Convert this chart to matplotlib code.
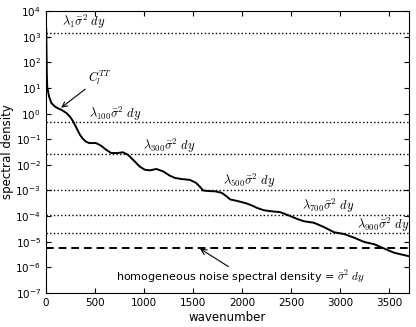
import matplotlib

matplotlib.use("Agg")
import matplotlib.pyplot as plt
import numpy as np

# C_l^TT curve
ell = [5, 8, 11, 15, 34, 57, 92, 126, 160, 211, 246, 280, 314, 348, 377, 410,
       444, 512, 563, 615, 666, 734, 785, 836, 888, 956, 1007, 1058, 1127,
       1195, 1263, 1315, 1383, 1468, 1530, 1570, 1604, 1660, 1724, 1793,
       1840, 1878, 1963, 2049, 2100, 2152, 2220, 2288, 2390, 2440, 2493,
       2560, 2629, 2732, 2830, 2937, 3039, 3140, 3244, 3347, 3449, 3551, 3705]
cl = [2000, 200, 30, 11, 4.6, 2.6, 1.9, 1.6, 1.4, 1.05, 0.77, 0.49, 0.27, 0.15,
      0.105, 0.08, 0.071, 0.071, 0.056, 0.039, 0.029, 0.029, 0.031, 0.025,
      0.016, 0.0087, 0.0065, 0.0061, 0.0069, 0.0056, 0.0038, 0.0031, 0.0028,
      0.0026, 0.0020, 0.0014, 0.0010, 0.00095, 0.00093, 0.00081, 0.00060,
      0.00045, 0.00038, 0.00031, 0.00026, 0.00021, 0.00017, 0.000156,
      0.000142, 0.00012, 1e-4, 7.8e-5, 6.3e-5, 5.5e-5, 3.8e-5, 2.35e-5,
      2.0e-5, 1.45e-5, 9.8e-6, 8e-6, 5.4e-6, 3.7e-6, 2.7e-6]

# dotted levels lambda_l * sigma^2 dy
lam_labels = [r"$\lambda_{1}\bar{\sigma}^2\ dy$", r"$\lambda_{100}\bar{\sigma}^2\ dy$",
              r"$\lambda_{300}\bar{\sigma}^2\ dy$", r"$\lambda_{500}\bar{\sigma}^2\ dy$",
              r"$\lambda_{700}\bar{\sigma}^2\ dy$", r"$\lambda_{900}\bar{\sigma}^2\ dy$"]
lam_levels = [1400, 0.48, 0.027, 1.0e-3, 1.15e-4, 2.1e-5]
lam_text_x = [167, 444, 987, 1803, 2613, 3169]
lam_text_y = [3700, 1.0, 0.056, 0.0023, 2.6e-4, 4.7e-5]

noise_level = 5.5e-6

plt.rcParams["mathtext.fontset"] = "cm"
plt.rcParams["font.family"] = "DejaVu Sans"

fig = plt.figure(figsize=(4.16, 3.27), dpi=100)
ax = fig.add_axes([0.11, 0.104, 0.873, 0.862])

ax.semilogy(ell, cl, color="k", lw=1.4)
for lev in lam_levels:
    ax.axhline(lev, color="k", ls=":", lw=1.0)
ax.axhline(noise_level, color="k", ls=(0, (4, 2.5)), lw=1.4)

for lab, tx, ty in zip(lam_labels, lam_text_x, lam_text_y):
    ax.text(tx, ty, lab, fontsize=9, va="center", ha="left")

ax.annotate(r"$C_l^{TT}$", xy=(157, 1.7), xytext=(430, 25), fontsize=9,
            va="center", ha="left",
            arrowprops=dict(arrowstyle="->", color="k", lw=0.8,
                            shrinkA=0, shrinkB=0))
ax.annotate("", xy=(1571, 5.4e-6), xytext=(1861, 1.07e-6),
            arrowprops=dict(arrowstyle="->", color="k", lw=0.8,
                            shrinkA=0, shrinkB=0))
ax.text(717, 4.5e-7, r"homogeneous noise spectral density = $\bar{\sigma}^2\ dy$",
        fontsize=8, va="center", ha="left")

ax.set_xlim(0, 3700)
ax.set_ylim(1e-7, 1e4)
ax.set_xticks(np.arange(0, 3501, 500))
ax.set_yticks([10.0 ** k for k in range(-7, 5)])
ax.yaxis.set_minor_locator(matplotlib.ticker.NullLocator())
ax.tick_params(direction="in", top=True, right=True, labelsize=7.5, length=3.5)
ax.set_xlabel("wavenumber", fontsize=8.5, labelpad=2)
ax.set_ylabel("spectral density", fontsize=8.5, labelpad=1)

fig.savefig("out.png", dpi=100)
